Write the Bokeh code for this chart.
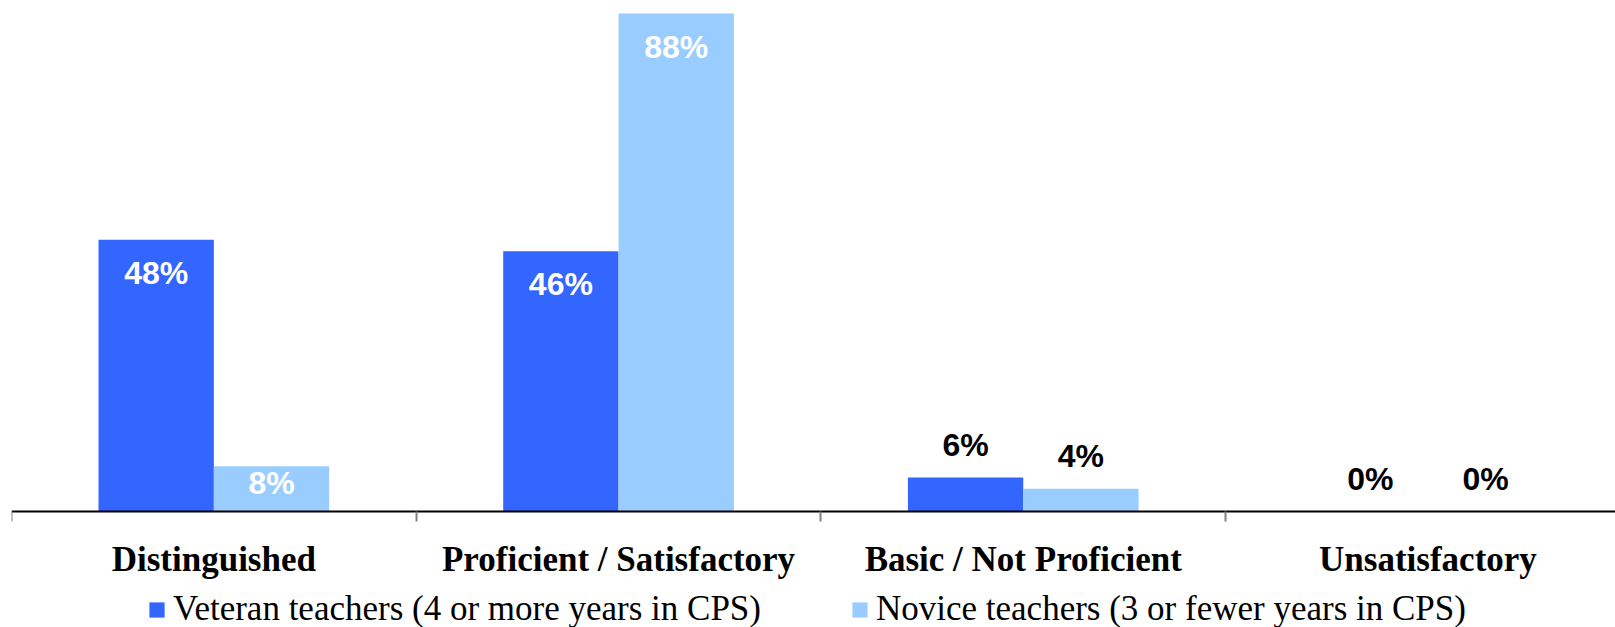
from bokeh.plotting import figure
from bokeh.models import Range1d, FixedTicker, Legend, LegendItem, ColumnDataSource, LinearAxis
from bokeh.core.properties import value
from bokeh.embed import file_html
from bokeh.resources import INLINE

categories = ["Distinguished", "Proficient / Satisfactory", "Basic / Not Proficient", "Unsatisfactory"]
veteran = [48, 46, 6, 0]
novice = [8, 88, 4, 0]
series_names = ["Veteran teachers (4 or more years in CPS)",
                "Novice teachers (3 or fewer years in CPS)"]
colors = ["#3366FF", "#99CCFF"]

W, H = 1615, 627
AXIS_PX = 511          # distance of the category axis from the top of the frame
PX_PER_PCT = 5.659
Y_MAX = AXIS_PX / PX_PER_PCT
Y_MIN = -(H - AXIS_PX) / PX_PER_PCT
LEFT = 11
X_MAX = (W - LEFT) / 404.7
BAR_W = 0.285

p = figure(width=W, height=H, output_backend="svg", toolbar_location=None,
           x_range=Range1d(0, X_MAX), y_range=Range1d(Y_MIN, Y_MAX),
           x_axis_location=None, y_axis_location=None,
           min_border_left=LEFT, min_border_right=0, min_border_top=0, min_border_bottom=0)
p.outline_line_color = None
p.grid.visible = False
p.xgrid.visible = False
p.ygrid.visible = False
p.background_fill_color = "white"
p.border_fill_color = "white"

n = len(categories)
centers = [i + 0.5 for i in range(n)]
renderers = []
series = [veteran, novice]
offsets = [-BAR_W / 2, BAR_W / 2]
label_src_in = dict(x=[], y=[], t=[], off=[])
label_src_out = dict(x=[], y=[], t=[])
for s, vals in enumerate(series):
    xs = [c + offsets[s] for c in centers]
    src = ColumnDataSource(dict(x=xs, top=vals))
    r = p.vbar(x="x", top="top", width=BAR_W, bottom=0, source=src,
               fill_color=colors[s], line_color=None)
    renderers.append(r)
    for x, v in zip(xs, vals):
        if v >= 8:
            label_src_in["x"].append(x)
            label_src_in["y"].append(v)
            label_src_in["t"].append(f"{v}%")
            label_src_in["off"].append(min(33, 0.38 * v * PX_PER_PCT))
        else:
            label_src_out["x"].append(x)
            label_src_out["y"].append(v)
            label_src_out["t"].append(f"{v}%")

p.text(x="x", y="y", text="t", y_offset="off", source=ColumnDataSource(label_src_in),
       text_color="white", text_font=value("Liberation Sans"), text_font_style="bold",
       text_font_size="32px", text_align="center", text_baseline="middle")
p.text(x="x", y="y", text="t", y_offset=-33, source=ColumnDataSource(label_src_out),
       text_color="black", text_font=value("Liberation Sans"), text_font_style="bold",
       text_font_size="32px", text_align="center", text_baseline="middle")

ax = LinearAxis(fixed_location=0)
ax.ticker = FixedTicker(ticks=centers, minor_ticks=list(range(n + 1)))
ax.major_label_overrides = {c: cat for c, cat in zip(centers, categories)}
ax.major_tick_out = 0
ax.major_tick_in = 0
ax.minor_tick_out = 10
ax.minor_tick_in = 0
ax.minor_tick_line_color = "#808080"
ax.minor_tick_line_width = 2
ax.axis_line_color = "black"
ax.axis_line_width = 2
ax.major_label_standoff = 18
ax.major_label_text_font = "Liberation Serif"
ax.major_label_text_font_style = "bold"
ax.major_label_text_font_size = "35px"
ax.major_label_text_color = "black"
p.add_layout(ax, "below")

legend = Legend(items=[LegendItem(label=series_names[i], renderers=[renderers[i]]) for i in range(2)],
                orientation="horizontal", location=(136, -2),
                glyph_width=19, glyph_height=19, label_standoff=7, spacing=89,
                padding=0, margin=0, border_line_alpha=0, background_fill_alpha=0,
                label_text_font="Liberation Serif", label_text_font_size="35px",
                label_text_color="black")
p.add_layout(legend, "center")

open("out.html", "w").write(file_html(p, INLINE))
